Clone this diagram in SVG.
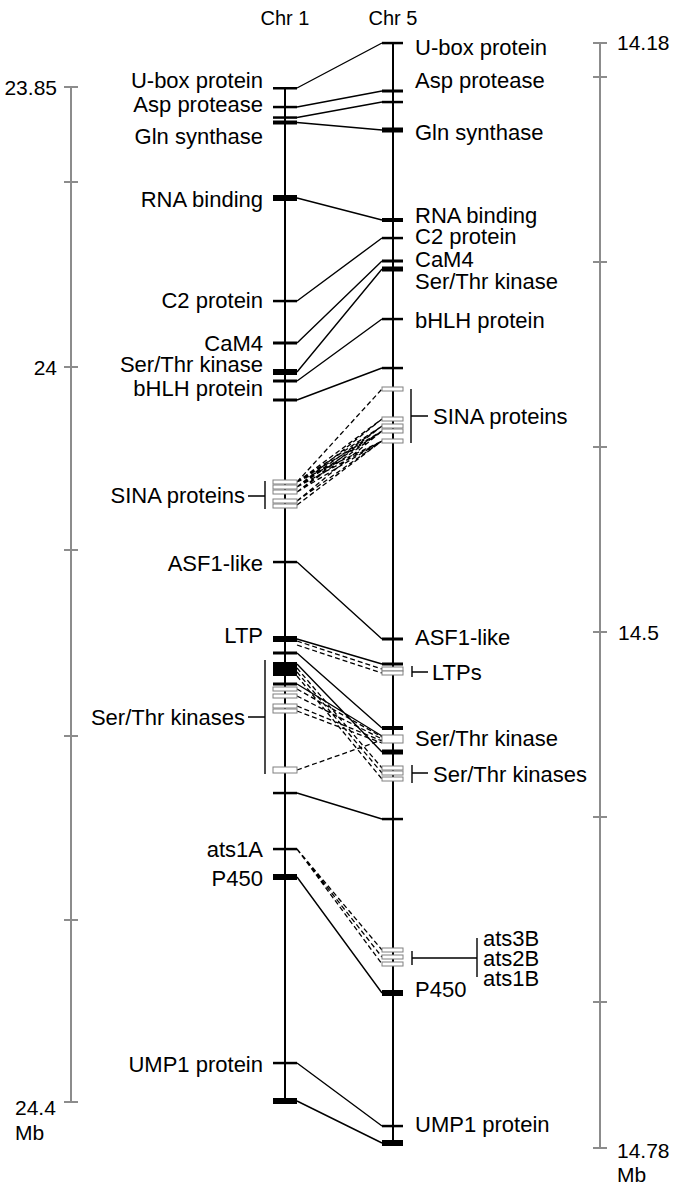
<svg xmlns="http://www.w3.org/2000/svg" width="685" height="1190" viewBox="0 0 685 1190">
<style>
text{font-family:"Liberation Sans",Arial,sans-serif;font-size:22px;fill:#000}
.sc{font-size:21px}
.h{font-size:20px}
.e{text-anchor:end}
.m{text-anchor:middle}
.ax{stroke:#000;stroke-width:2;fill:none}
.gr{stroke:#8c8c8c;stroke-width:2;fill:none}
.c{stroke:#000;stroke-width:1.4;fill:none}
.d{stroke:#000;stroke-width:1.3;fill:none;stroke-dasharray:5,3}
.b{stroke:#000;stroke-width:1.4;fill:none}
.k{fill:#000}
.w{fill:#fff;stroke:#808080;stroke-width:1}
</style>
<g id="scales">
<path class="gr" d="M71,87V1102M64,87H78M64,182H78M64,367H78M64,550H78M64,736H78M64,920H78M64,1102H78"/>
<path class="gr" d="M600,43V1148M593,43H607M593,77H607M593,262H607M593,447H607M593,632H607M593,817H607M593,1002H607M593,1148H607"/>
<text class="sc e" x="57" y="95">23.85</text>
<text class="sc e" x="57" y="375">24</text>
<text class="sc" x="15" y="1115">24.4</text>
<text class="sc" x="15" y="1140">Mb</text>
<text class="sc" x="617" y="50">14.18</text>
<text class="sc" x="618" y="640">14.5</text>
<text class="sc" x="617" y="1158">14.78</text>
<text class="sc" x="617" y="1182">Mb</text>
</g>
<g id="connectors">
<path class="c" d="M297,88L382,43M297,107L382,91M297,117.5L382,102M297,122.5L382,130M297,198L382,220M297,301L382,238M297,343L382,261M297,372L382,269M297,381L382,319M297,400L382,368M297,562L382,639M297,639L382,664M297,653L382,728M297,664L382,752M297,684L382,736M297,793L382,819M297,877L382,993M297,1063L382,1126M297,1101L382,1143"/>
<path class="d" d="M297,482L382,389M297,482L382,419M297,482L382,426M297,482L382,431M297,482L382,441M297,487L382,419M297,487L382,426M297,487L382,431M297,487L382,441M297,492L382,426M297,492L382,431M297,492L382,441M297,501L382,431M297,501L382,441M297,505L382,441"/>
<path class="d" d="M297,641L382,669M297,645L382,673M297,668L382,768M297,672L382,773M297,676L382,779M297,689L382,737M297,696L382,739M297,706L382,741M297,711L382,743M297,770L382,740M297,849L382,950M297,849L382,957M297,849L382,964"/>
</g>
<g id="chr1">
<text class="m h" x="285" y="25">Chr 1</text>
<path class="ax" d="M285,88V1101"/>
<rect class="k" x="273" y="87" width="24" height="2.5"/>
<rect class="k" x="273" y="105.8" width="24" height="2.5"/>
<rect class="k" x="273" y="116.3" width="24" height="2.5"/>
<rect class="k" x="273" y="120.5" width="24" height="4"/>
<rect class="k" x="273" y="195" width="24" height="6"/>
<rect class="k" x="273" y="299.8" width="24" height="2.5"/>
<rect class="k" x="273" y="341.5" width="24" height="3"/>
<rect class="k" x="273" y="369" width="24" height="6"/>
<rect class="k" x="273" y="379.5" width="24" height="3"/>
<rect class="k" x="273" y="398.5" width="24" height="3"/>
<rect class="w" x="273" y="480" width="24" height="4"/>
<rect class="w" x="273" y="485" width="24" height="4"/>
<rect class="w" x="273" y="490" width="24" height="4"/>
<rect class="w" x="273" y="499" width="24" height="4"/>
<rect class="w" x="273" y="504" width="24" height="4"/>
<rect class="k" x="273" y="560.8" width="24" height="2.5"/>
<rect class="k" x="273" y="636" width="24" height="6"/>
<rect class="k" x="273" y="651.5" width="24" height="3"/>
<rect class="k" x="273" y="662" width="24" height="14"/>
<rect class="k" x="273" y="682.5" width="24" height="3"/>
<rect class="w" x="273" y="687" width="24" height="4"/>
<rect class="w" x="273" y="694" width="24" height="4"/>
<rect class="w" x="273" y="704" width="24" height="4"/>
<rect class="w" x="273" y="709" width="24" height="4"/>
<rect class="w" x="273" y="767" width="24" height="6"/>
<rect class="k" x="273" y="791.8" width="24" height="2.5"/>
<rect class="k" x="273" y="847.8" width="24" height="2.5"/>
<rect class="k" x="273" y="874" width="24" height="6"/>
<rect class="k" x="273" y="1061.8" width="24" height="2.5"/>
<rect class="k" x="273" y="1098" width="24" height="6"/>
<text class="e" x="263" y="88">U-box protein</text>
<text class="e" x="263" y="112">Asp protease</text>
<text class="e" x="263" y="144">Gln synthase</text>
<text class="e" x="263" y="207">RNA binding</text>
<text class="e" x="263" y="308">C2 protein</text>
<text class="e" x="263" y="351">CaM4</text>
<text class="e" x="263" y="372">Ser/Thr kinase</text>
<text class="e" x="263" y="396">bHLH protein</text>
<text class="e" x="245" y="503">SINA proteins</text>
<text class="e" x="263" y="571">ASF1-like</text>
<text class="e" x="263" y="643">LTP</text>
<text class="e" x="245" y="725">Ser/Thr kinases</text>
<text class="e" x="263" y="857">ats1A</text>
<text class="e" x="263" y="886">P450</text>
<text class="e" x="263" y="1072">UMP1 protein</text>
<path class="b" d="M265,481V509M248,496H265M265,660V774M248,717H265"/>
</g>
<g id="chr5">
<text class="m h" x="393" y="25">Chr 5</text>
<path class="ax" d="M393,43V1143"/>
<rect class="k" x="382" y="41.8" width="21" height="2.5"/>
<rect class="k" x="382" y="89.5" width="21" height="3"/>
<rect class="k" x="382" y="100.8" width="21" height="2.5"/>
<rect class="k" x="382" y="127.5" width="21" height="5"/>
<rect class="k" x="382" y="218" width="21" height="4"/>
<rect class="k" x="382" y="236.8" width="21" height="2.5"/>
<rect class="k" x="382" y="259.5" width="21" height="3"/>
<rect class="k" x="382" y="266.5" width="21" height="5"/>
<rect class="k" x="382" y="317.8" width="21" height="2.5"/>
<rect class="k" x="382" y="366.8" width="21" height="2.5"/>
<rect class="w" x="382" y="387" width="21" height="4"/>
<rect class="w" x="382" y="417" width="21" height="4"/>
<rect class="w" x="382" y="424" width="21" height="4"/>
<rect class="w" x="382" y="429" width="21" height="4"/>
<rect class="w" x="382" y="439" width="21" height="4"/>
<rect class="k" x="382" y="637.5" width="21" height="3"/>
<rect class="k" x="382" y="662.5" width="21" height="3"/>
<rect class="w" x="382" y="667" width="21" height="4"/>
<rect class="w" x="382" y="671" width="21" height="4"/>
<rect class="k" x="382" y="726" width="21" height="4"/>
<rect class="w" x="382" y="735" width="21" height="8"/>
<rect class="k" x="382" y="749.5" width="21" height="5"/>
<rect class="w" x="382" y="766" width="21" height="4"/>
<rect class="w" x="382" y="771" width="21" height="4"/>
<rect class="w" x="382" y="777" width="21" height="4"/>
<rect class="k" x="382" y="817.8" width="21" height="2.5"/>
<rect class="w" x="382" y="948" width="21" height="4"/>
<rect class="w" x="382" y="955" width="21" height="4"/>
<rect class="w" x="382" y="962" width="21" height="4"/>
<rect class="k" x="382" y="990" width="21" height="6"/>
<rect class="k" x="382" y="1124.8" width="21" height="2.5"/>
<rect class="k" x="382" y="1140" width="21" height="6"/>
<text x="415" y="55">U-box protein</text>
<text x="415" y="88">Asp protease</text>
<text x="415" y="140">Gln synthase</text>
<text x="415" y="223">RNA binding</text>
<text x="415" y="244">C2 protein</text>
<text x="415" y="267">CaM4</text>
<text x="415" y="289">Ser/Thr kinase</text>
<text x="415" y="328">bHLH protein</text>
<text x="433" y="424">SINA proteins</text>
<text x="415" y="645">ASF1-like</text>
<text x="432" y="680">LTPs</text>
<text x="415" y="746">Ser/Thr kinase</text>
<text x="433" y="782">Ser/Thr kinases</text>
<text x="483" y="946">ats3B<tspan x="483" dy="20">ats2B</tspan><tspan x="483" dy="20">ats1B</tspan></text>
<text x="415" y="997">P450</text>
<text x="415" y="1132">UMP1 protein</text>
<path class="b" d="M411,389V443M411,416H428M412,666V677M412,672H428M412,765V783M412,773H428M412,951V965M412,958H477M477,938V977"/>
</g>
</svg>
